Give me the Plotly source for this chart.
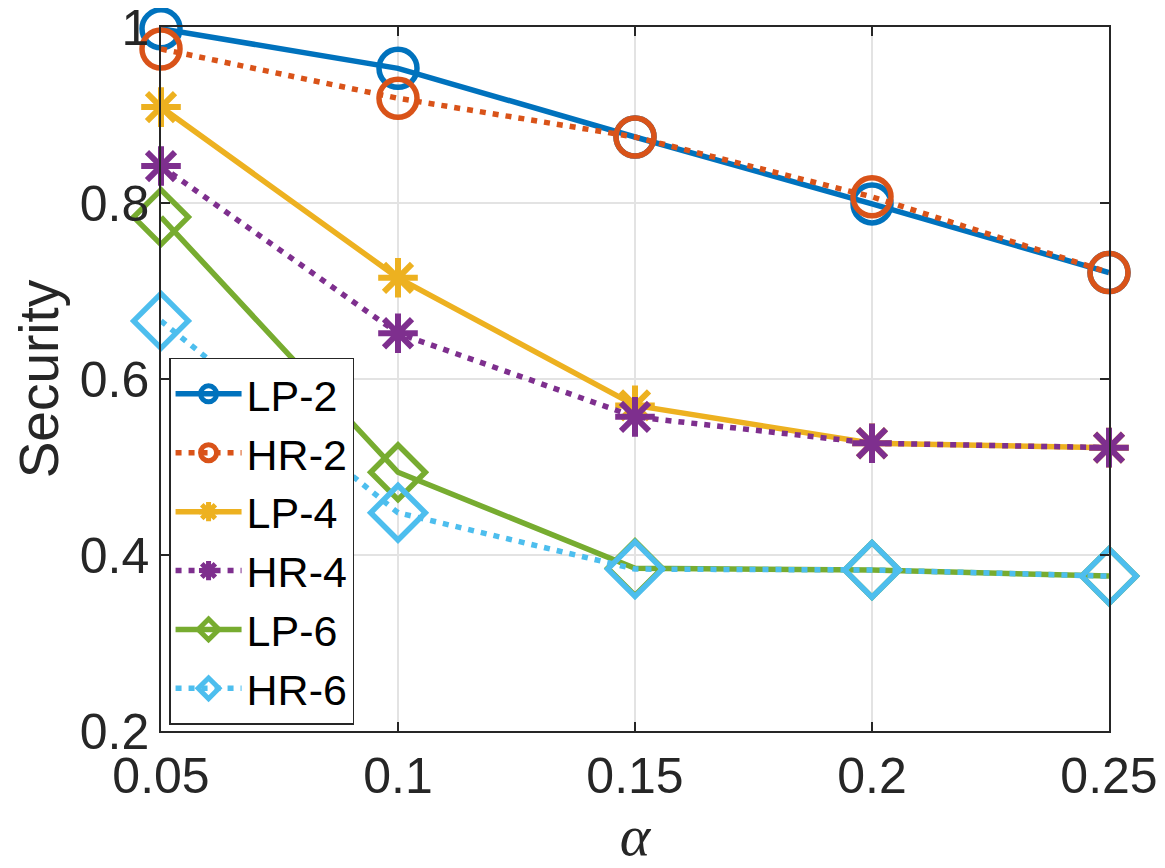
import plotly.graph_objects as go

alpha = [0.05, 0.10, 0.15, 0.20, 0.25]
lp2 = [0.998, 0.953, 0.875, 0.799, 0.721]
hr2 = [0.975, 0.919, 0.875, 0.807, 0.721]
lp4 = [0.909, 0.715, 0.570, 0.527, 0.522]
hr4 = [0.842, 0.652, 0.557, 0.527, 0.522]
lp6 = [0.784, 0.494, 0.385, 0.383, 0.376]
hr6 = [0.666, 0.448, 0.384, 0.383, 0.376]

x_ticks = [0.05, 0.1, 0.15, 0.2, 0.25]
x_tick_text = ["0.05", "0.1", "0.15", "0.2", "0.25"]
y_ticks = [0.2, 0.4, 0.6, 0.8, 1.0]
y_tick_text = ["0.2", "0.4", "0.6", "0.8", "1"]

series = [
    ("LP-2", lp2, "#0072BD", "solid", "circle-open", 38, 5.5),
    ("HR-2", hr2, "#D95319", "6px,7px", "circle-open", 38, 5.5),
    ("LP-4", lp4, "#EDB120", "solid", "asterisk-open", 33, 6),
    ("HR-4", hr4, "#7E2F8E", "6px,7px", "asterisk-open", 33, 6),
    ("LP-6", lp6, "#77AC30", "solid", "diamond-open", 42, 5.5),
    ("HR-6", hr6, "#4DBEEE", "6px,7px", "diamond-open", 42, 5.5),
]

fig = go.Figure()
for name, vals, color, dash, sym, size, mlw in series:
    fig.add_trace(go.Scatter(
        x=alpha, y=vals, name=name, mode="lines+markers",
        line=dict(color=color, width=5.5, dash=dash),
        marker=dict(symbol=sym, size=size, color=color,
                    line=dict(color=color, width=mlw)),
        cliponaxis=False,
    ))

axis_common = dict(
    showline=True, linecolor="#262626", linewidth=1.5, mirror="ticks",
    ticks="inside", ticklen=9, tickwidth=1.5, tickcolor="#262626",
    showgrid=True, gridcolor="#e3e3e3", gridwidth=1.5, zeroline=False,
    automargin=False, ticklabeloverflow="allow",
    tickfont=dict(family="Liberation Sans, Arial", size=50, color="#262626"),
)

# page body has an 8px default margin; figure is sized to fit the window
fig.update_layout(
    width=1157, height=860,
    margin=dict(l=153, r=56, t=19, b=137),
    paper_bgcolor="white", plot_bgcolor="white",
    xaxis=dict(range=[0.05, 0.25], tickvals=x_ticks, ticktext=x_tick_text,
               title=dict(text="<i>α</i>", font=dict(family="Liberation Serif, Times New Roman", size=58, color="#262626"),
                          standoff=8),
               **axis_common),
    yaxis=dict(range=[0.2, 1.0], tickvals=y_ticks, ticktext=y_tick_text,
               tickmode="array",
               title=dict(text="Security", font=dict(family="Liberation Sans, Arial", size=55, color="#262626"),
                          standoff=14),
               **axis_common),
    legend=dict(x=0.0085, y=0.53, xanchor="left", yanchor="top",
                bgcolor="white", bordercolor="#262626", borderwidth=1.5,
                font=dict(family="Liberation Sans, Arial", size=43, color="black"),
                itemwidth=66, tracegroupgap=0),
    showlegend=True,
)

fig.write_html("out.html")
